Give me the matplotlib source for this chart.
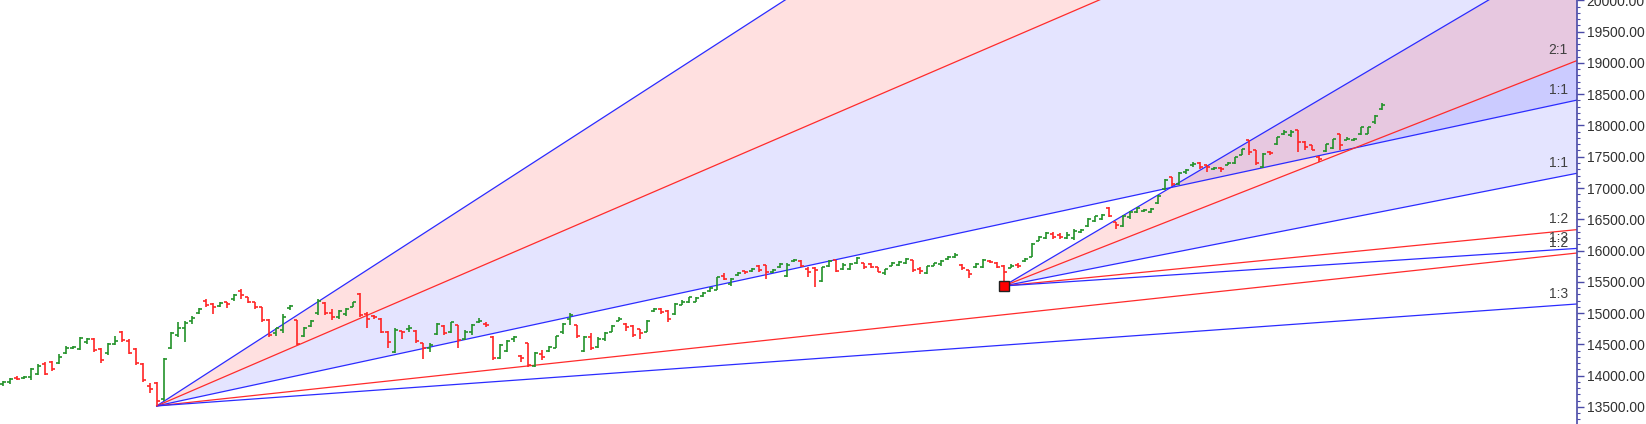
import matplotlib
matplotlib.use('Agg')

import matplotlib.pyplot as plt
from matplotlib.ticker import MultipleLocator, FormatStrFormatter

# daily OHLC bars
opens = [13860, 13900, 13970, 13960, 13980, 14020, 14190, 14220, 14200, 14370,
         14440, 14430, 14540, 14590, 14420, 14360, 14500, 14690, 14560, 14420,
         14190, 13830, 13880, 13620, 14440, 14650, 14760, 14880, 15000, 15200,
         15150, 15110, 15180, 15220, 15360, 15260, 15180, 15100, 14890, 14680,
         14730, 15080, 14890, 14640, 14790, 15000, 15160, 15000, 14940, 14990,
         15100, 15310, 14990, 14960, 14910, 14700, 14380, 14710, 14740, 14720,
         14520, 14440, 14660, 14800, 14690, 14810, 14580, 14700, 14860, 14830,
         14620, 14280, 14400, 14580, 14320, 14520, 14160, 14350, 14400, 14450,
         14690, 14900, 14810, 14400, 14610, 14460, 14590, 14700, 14880, 14820,
         14790, 14740, 14700, 15030, 15070, 15040, 14980, 15130, 15180, 15180,
         15280, 15360, 15370, 15600, 15460, 15610, 15670, 15680, 15760, 15770,
         15650, 15730, 15600, 15830, 15840, 15710, 15720, 15510, 15750, 15850,
         15700, 15700, 15800, 15800, 15790, 15740, 15640, 15760, 15770, 15800,
         15850, 15710, 15640, 15760, 15780, 15860, 15900, 15770, 15690, 15730,
         15730, 15840, 15800, 15760, 15720, 15770, 15830, 15900, 16150, 16200,
         16260, 16250, 16200, 16200, 16290, 16400, 16480, 16500, 16680, 16460,
         16400, 16540, 16620, 16630, 16620, 16760, 16980, 17170, 17060, 17250,
         17370, 17400, 17360, 17300, 17320, 17370, 17400, 17520, 17760, 17600,
         17330, 17570, 17700, 17860, 17850, 17920, 17740, 17680, 17500, 17590,
         17640, 17860, 17760, 17760, 17860, 17870, 18050, 18260]
highs = [13920, 13960, 13990, 14000, 14120, 14180, 14220, 14240, 14340, 14470,
         14480, 14610, 14600, 14600, 14440, 14530, 14630, 14720, 14580, 14440,
         14210, 13880, 13900, 14290, 14690, 14850, 14870, 14950, 15080, 15220,
         15160, 15180, 15180, 15300, 15380, 15260, 15180, 15100, 14900, 14760,
         14980, 15130, 14890, 14770, 14890, 15220, 15180, 15070, 15050, 15080,
         15180, 15320, 15020, 14970, 14920, 14720, 14760, 14720, 14810, 14730,
         14530, 14520, 14840, 14810, 14860, 14810, 14730, 14830, 14920, 14860,
         14630, 14500, 14570, 14630, 14330, 14520, 14380, 14410, 14470, 14640,
         14840, 15000, 14810, 14630, 14680, 14620, 14700, 14810, 14940, 14840,
         14810, 14750, 14890, 15080, 15080, 15050, 15160, 15210, 15260, 15260,
         15330, 15420, 15580, 15640, 15560, 15660, 15680, 15720, 15770, 15770,
         15710, 15800, 15800, 15870, 15850, 15740, 15740, 15740, 15850, 15850,
         15800, 15800, 15900, 15800, 15800, 15740, 15710, 15810, 15840, 15880,
         15850, 15730, 15760, 15800, 15850, 15910, 15960, 15790, 15690, 15800,
         15860, 15850, 15810, 15770, 15790, 15800, 15880, 16120, 16230, 16300,
         16300, 16280, 16300, 16340, 16350, 16520, 16560, 16580, 16690, 16460,
         16570, 16630, 16700, 16670, 16680, 16890, 17140, 17180, 17250, 17300,
         17410, 17420, 17370, 17340, 17330, 17420, 17500, 17630, 17770, 17610,
         17560, 17590, 17820, 17930, 17930, 17930, 17750, 17690, 17510, 17710,
         17790, 17870, 17810, 17800, 17980, 17980, 18170, 18360]
lows = [13840, 13870, 13930, 13950, 13930, 14010, 14010, 14080, 14190, 14350,
        14420, 14410, 14500, 14380, 14200, 14330, 14490, 14540, 14340, 14170,
        13900, 13720, 13516, 13600, 14430, 14620, 14540, 14830, 14980, 15100,
        14980, 15100, 15080, 15200, 15230, 15160, 15070, 14860, 14620, 14640,
        14680, 15050, 14490, 14620, 14780, 14970, 14970, 14890, 14900, 14960,
        15100, 14940, 14760, 14910, 14680, 14440, 14360, 14580, 14700, 14520,
        14260, 14380, 14650, 14650, 14680, 14440, 14570, 14650, 14840, 14780,
        14250, 14260, 14380, 14540, 14220, 14140, 14140, 14250, 14380, 14440,
        14670, 14810, 14600, 14380, 14410, 14440, 14560, 14700, 14870, 14720,
        14620, 14580, 14700, 15020, 14990, 14860, 14970, 15130, 15160, 15180,
        15260, 15340, 15370, 15530, 15440, 15600, 15620, 15660, 15660, 15550,
        15640, 15720, 15580, 15820, 15740, 15580, 15420, 15500, 15740, 15660,
        15690, 15690, 15790, 15710, 15720, 15650, 15610, 15750, 15760, 15780,
        15660, 15630, 15620, 15750, 15750, 15850, 15880, 15690, 15560, 15720,
        15720, 15800, 15720, 15434, 15720, 15720, 15810, 15890, 16150, 16190,
        16190, 16180, 16180, 16170, 16280, 16380, 16460, 16490, 16540, 16350,
        16380, 16500, 16600, 16620, 16600, 16750, 16970, 17040, 17050, 17230,
        17340, 17310, 17260, 17290, 17250, 17360, 17390, 17520, 17530, 17370,
        17320, 17520, 17690, 17850, 17820, 17580, 17610, 17600, 17420, 17580,
        17630, 17610, 17760, 17750, 17850, 17860, 18030, 18250]
closes = [13900, 13940, 13950, 13985, 14100, 14160, 14030, 14100, 14300, 14440,
          14460, 14600, 14590, 14410, 14250, 14500, 14560, 14570, 14360, 14200,
          13930, 13780, 13600, 14260, 14680, 14760, 14840, 14920, 15060, 15130,
          15100, 15160, 15150, 15290, 15290, 15180, 15100, 14890, 14650, 14755,
          14940, 15110, 14500, 14755, 14880, 15200, 15000, 14940, 15040, 15070,
          15170, 14970, 14900, 14930, 14700, 14540, 14730, 14700, 14760, 14550,
          14440, 14490, 14820, 14680, 14860, 14570, 14700, 14810, 14870, 14810,
          14280, 14490, 14550, 14620, 14280, 14170, 14360, 14300, 14460, 14630,
          14830, 14970, 14630, 14610, 14440, 14590, 14680, 14790, 14910, 14780,
          14650, 14680, 14880, 15060, 15020, 14900, 15150, 15180, 15250, 15245,
          15320, 15400, 15570, 15540, 15540, 15645, 15650, 15705, 15690, 15660,
          15690, 15785, 15770, 15850, 15750, 15660, 15690, 15730, 15840, 15680,
          15770, 15780, 15880, 15730, 15740, 15660, 15700, 15795, 15820, 15860,
          15690, 15680, 15750, 15795, 15840, 15890, 15935, 15715, 15625, 15785,
          15850, 15810, 15740, 15660, 15760, 15750, 15860, 16105, 16210, 16285,
          16220, 16220, 16250, 16320, 16330, 16500, 16545, 16570, 16555, 16410,
          16555, 16610, 16680, 16650, 16665, 16875, 17130, 17065, 17235, 17290,
          17390, 17340, 17340, 17320, 17300, 17405, 17490, 17620, 17580, 17405,
          17545, 17555, 17810, 17900, 17900, 17740, 17660, 17610, 17460, 17700,
          17780, 17690, 17790, 17785, 17970, 17970, 18150, 18330]

# Gann fans: anchor bar, anchor price, price per bar for the 1:1 line
fan_bars = [22, 143]
fan_prices = [13516, 15434]
fan_units = [24.1, 22.0]
ratios = [3, 2, 1, 1 / 2, 1 / 3]
ratio_labels = ['3:1', '2:1', '1:1', '1:2', '1:3']
line_colors = ['#2b2bff', '#ff2b2b', '#2b2bff', '#ff2b2b', '#2b2bff']

x_min, x_max = -0.39, 224.9
y_min, y_max = 13227, 20006

fig = plt.figure(figsize=(16.46, 4.24), dpi=100)
ax = fig.add_axes([0, 0, 1577 / 1646, 1])
ax.set_xlim(x_min, x_max)
ax.set_ylim(y_min, y_max)

for b0, p0, unit in zip(fan_bars, fan_prices, fan_units):
    xs = [b0, x_max]
    ends = [p0 + r * unit * (x_max - b0) for r in ratios]
    # shaded wedges: 3:1 -> 2:1 pink, 2:1 -> 1:1 lavender
    ax.fill([b0, x_max, x_max], [p0, ends[0], ends[1]], color='#ff0000',
            alpha=0.12, lw=0, zorder=1)
    ax.fill([b0, x_max, x_max], [p0, ends[1], ends[2]], color='#0000ff',
            alpha=0.107, lw=0, zorder=1)
    for end, col, lab in zip(ends, line_colors, ratio_labels):
        ax.plot(xs, [p0, end], color=col, lw=0.9, zorder=2)
        if end < y_max:
            ax.annotate(lab, xy=(x_max, end), xytext=(-6.5, 2.5),
                        textcoords='offset points', ha='right', va='bottom',
                        fontsize=10, family='Liberation Sans', color='#404040',
                        zorder=5)

# OHLC bars
tick = 0.42
for i, (o, h, l, c) in enumerate(zip(opens, highs, lows, closes)):
    col = '#23922a' if c >= o else '#ff2525'
    ax.vlines(i, l, h, color=col, lw=1.2, zorder=3)
    ax.hlines(o, i - tick, i, color=col, lw=1.2, zorder=3)
    ax.hlines(c, i, i + tick, color=col, lw=1.2, zorder=3)

# anchor marker of the second fan
ax.plot(fan_bars[1], fan_prices[1], marker='s', ms=6.5, mfc='#ff0000',
        mec='#202020', mew=1.0, zorder=4)

# price scale on the right
for side in ['left', 'top', 'bottom']:
    ax.spines[side].set_visible(False)
ax.spines['right'].set_color('#4a4aa8')
ax.spines['right'].set_linewidth(1.2)
ax.xaxis.set_visible(False)
ax.yaxis.tick_right()
ax.yaxis.set_major_locator(MultipleLocator(500))
ax.yaxis.set_minor_locator(MultipleLocator(100))
ax.yaxis.set_major_formatter(FormatStrFormatter('%.2f'))
ax.tick_params(axis='y', which='major', length=5, width=1, color='#4a4aa8',
               pad=2, labelsize=10, labelcolor='#303030')
ax.tick_params(axis='y', which='minor', length=2.5, width=0.8, color='#4a4aa8')
for t in ax.get_yticklabels():
    t.set_family('Liberation Sans')

fig.savefig('out.png', dpi=100, facecolor='white')
